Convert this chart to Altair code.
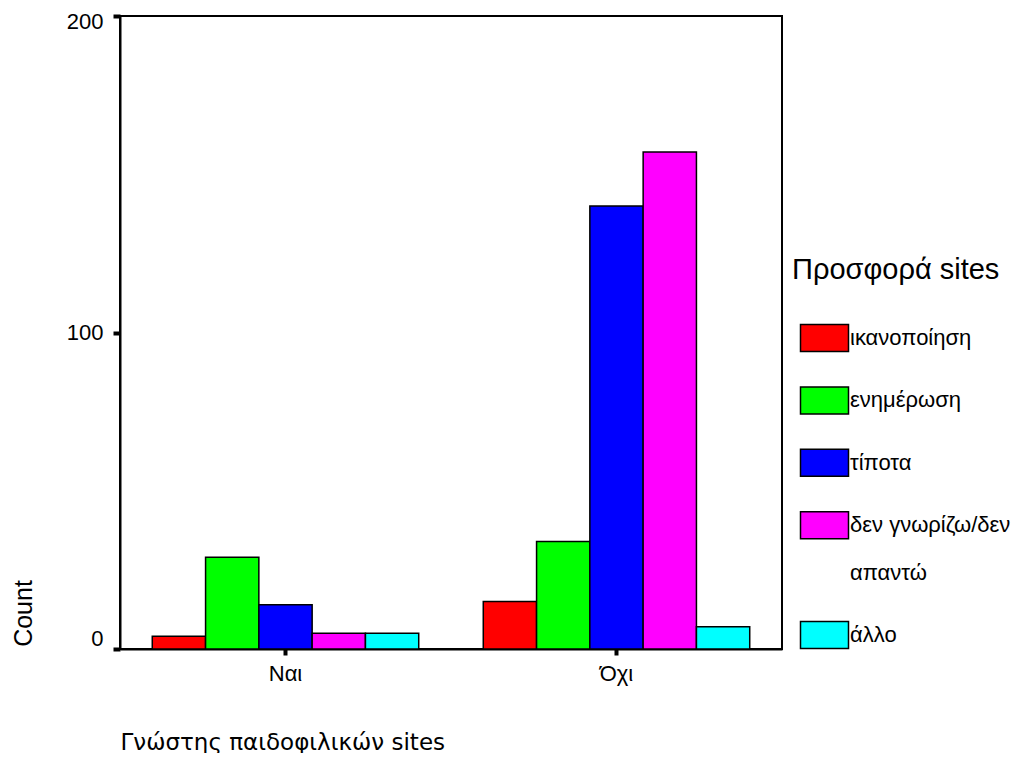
import altair as alt
import pandas as pd

# ---- data ----
groups = ["Ναι", "Όχι"]
offers = ["ικανοποίηση", "ενημέρωση", "τίποτα", "δεν γνωρίζω/δεν απαντώ", "άλλο"]
counts_nai = [4, 29, 14, 5, 5]
counts_ochi = [15, 34, 140, 157, 7]
colors = ["#FF0000", "#00FF00", "#0000FF", "#FF00FF", "#00FFFF"]
legend_lines = [["ικανοποίηση"], ["ενημέρωση"], ["τίποτα"], ["δεν γνωρίζω/δεν", "απαντώ"], ["άλλο"]]
legend_title = ["Προσφορά sites"]
y_ticks = [0, 100, 200]

FONT = "Liberation Sans"
W, H = 662, 633

rows = []
for g, vals in zip(groups, [counts_nai, counts_ochi]):
    for o, v in zip(offers, vals):
        rows.append({"group": g, "offer": o, "count": v})
df = pd.DataFrame(rows)

# legend layout (rows in units of the legend row step)
LINE = 47.5 / 62.4
sw_rows, tx_rows = [], []
slot = 0.0
for o, lines in zip(offers, legend_lines):
    sw_rows.append({"offer": o, "slot": slot})
    for k, ln in enumerate(lines):
        tx_rows.append({"label": ln, "slot": slot + k * LINE})
    slot = slot + (len(lines) - 1) * LINE + 1
sw_df = pd.DataFrame(sw_rows)
tx_df = pd.DataFrame(tx_rows)
last_slot = sw_rows[-1]["slot"]
leg_y = alt.Scale(domain=[0, last_slot], range=[322, 322 + 62.4 * last_slot], nice=False, zero=False)

color_scale = alt.Scale(domain=offers, range=colors)

y_label_offset = {
    "condition": [
        {"test": "datum.value == 0", "value": -11},
        {"test": "datum.value == 200", "value": 5},
    ],
    "value": 0,
}

bars = alt.Chart(df).mark_bar(stroke="black", strokeWidth=1.5).encode(
    x=alt.X(
        "group:N", sort=groups,
        scale=alt.Scale(paddingInner=0.195, paddingOuter=0.0975),
        axis=alt.Axis(
            title="Γνώστης παιδοφιλικών sites", labelAngle=0, labelFontSize=22,
            labelBaseline="middle", labelPadding=18, tickSize=6, tickWidth=4,
            titleFont="DejaVu Sans", titleFontSize=23, titleX=0, titleY=93,
            titleAlign="left", titleBaseline="middle", titleAnchor="start",
        ),
    ),
    xOffset=alt.XOffset("offer:N", sort=offers, scale=alt.Scale(paddingInner=0, paddingOuter=0)),
    y=alt.Y(
        "count:Q", scale=alt.Scale(domain=[0, 200], nice=False),
        axis=alt.Axis(
            values=y_ticks, title="Count", labelFontSize=22, labelPadding=10,
            tickSize=7, tickWidth=4, labelFlush=False, labelBaseline="middle",
            labelOffset=y_label_offset, grid=False,
            titleFontSize=25, titleX=-97, titleY=597, titleAlign="center",
            titleBaseline="middle", titleAngle=270,
        ),
    ),
    color=alt.Color("offer:N", scale=color_scale, legend=None),
)

swatches = alt.Chart(sw_df).mark_point(
    shape="M-1,-0.5625H1V0.5625H-1Z", size=2304, filled=True, opacity=1,
    stroke="black", strokeWidth=1.5,
).encode(
    x=alt.value(704.5),
    y=alt.Y("slot:Q", scale=leg_y, axis=None),
    color=alt.Color("offer:N", scale=color_scale, legend=None),
)

texts = alt.Chart(tx_df).mark_text(
    align="left", baseline="middle", fontSize=22, font=FONT, color="black"
).encode(
    x=alt.value(730),
    y=alt.Y("slot:Q", scale=leg_y, axis=None),
    text="label:N",
)

title = alt.Chart(pd.DataFrame({"t": legend_title})).mark_text(
    align="left", baseline="middle", fontSize=29, font=FONT, color="black"
).encode(
    x=alt.value(672),
    y=alt.value(254),
    text="t:N",
)

chart = alt.layer(bars, swatches, texts, title).resolve_scale(
    y="independent"
).properties(
    width=W, height=H,
    autosize=alt.AutoSizeParams(type="none"),
    padding={"left": 112, "top": 8, "right": 233, "bottom": 104},
    background="white",
).configure_view(
    stroke="black", strokeWidth=2
).configure_axis(
    labelFont=FONT, titleFont=FONT, labelColor="black", titleColor="black",
    tickColor="black", domainColor="black", domainWidth=2, titleFontWeight="normal",
)

chart.save("out.html", embed_options={"renderer": "svg", "actions": False})
